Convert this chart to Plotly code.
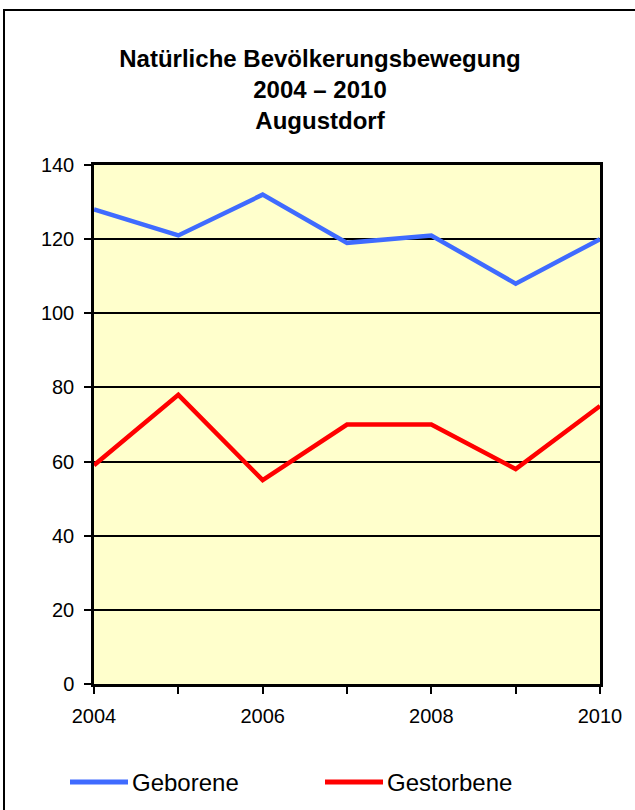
import plotly.graph_objects as go

# data
jahre = [2004, 2005, 2006, 2007, 2008, 2009, 2010]
geborene = [128, 121, 132, 119, 121, 108, 120]
gestorbene = [59, 78, 55, 70, 70, 58, 75]
x_ticktext = ["2004", "", "2006", "", "2008", "", "2010"]
y_ticks = [0, 20, 40, 60, 80, 100, 120, 140]

blau = "#3F6BFF"
rot = "#FF0000"
font_fam = "Liberation Sans, Arial, sans-serif"

fig = go.Figure()
fig.add_trace(go.Scatter(x=jahre, y=geborene, mode="lines", name="Geborene",
                         line=dict(color=blau, width=4.5), showlegend=False))
fig.add_trace(go.Scatter(x=jahre, y=gestorbene, mode="lines", name="Gestorbene",
                         line=dict(color=rot, width=4.5), showlegend=False))

fig.update_layout(
    width=635, height=810,
    margin=dict(l=94, r=35, t=165, b=126),
    paper_bgcolor="white",
    plot_bgcolor="#FFFFCC",
    font=dict(family=font_fam, size=20, color="black"),
    title=dict(
        text="<b>Natürliche Bevölkerungsbewegung</b><br><b>2004 – 2010</b><br><b>Augustdorf</b>",
        x=320 / 635, xanchor="center",
        y=1 - 67 / 810, yanchor="top",
        font=dict(size=24, family=font_fam),
    ),
)

fig.update_xaxes(
    range=[jahre[0], jahre[-1]],
    tickvals=jahre, ticktext=x_ticktext,
    ticks="outside", ticklen=7, tickwidth=2, tickcolor="black",
    showgrid=False, zeroline=False,
    showline=True, linecolor="black", linewidth=2.5, mirror=True,
    tickfont=dict(size=20), ticklabelstandoff=5,
)
fig.update_yaxes(
    range=[0, 140], tickvals=y_ticks,
    ticks="outside", ticklen=7, tickwidth=2, tickcolor="black",
    showgrid=True, gridcolor="black", gridwidth=2,
    zeroline=False,
    showline=True, linecolor="black", linewidth=2.5, mirror=True,
    tickfont=dict(size=20), ticklabelstandoff=6,
)

# outer chart frame (only left and top edges fall inside the image)
fig.add_shape(type="rect", xref="paper", yref="paper",
              x0=(4 - 94) / 506, x1=(660 - 94) / 506,
              y0=(684 - 840) / 519, y1=(684 - 10) / 519,
              line=dict(color="black", width=2), fillcolor="rgba(0,0,0,0)")

# legend drawn by hand to get the long line samples
leg_y = (684 - 782) / 519
for farbe, name, x_start in [(blau, "Geborene", 70), (rot, "Gestorbene", 325)]:
    fig.add_shape(type="line", xref="paper", yref="paper",
                  x0=(x_start - 94) / 506, x1=(x_start + 58 - 94) / 506,
                  y0=leg_y, y1=leg_y, line=dict(color=farbe, width=5))
    fig.add_annotation(text=name, xref="paper", yref="paper",
                       x=(x_start + 60 - 94) / 506, y=leg_y,
                       xanchor="left", yanchor="middle", showarrow=False,
                       font=dict(size=24))

fig.write_html("out.html", config={"displayModeBar": False},
               post_script="document.body.style.margin='0';")
